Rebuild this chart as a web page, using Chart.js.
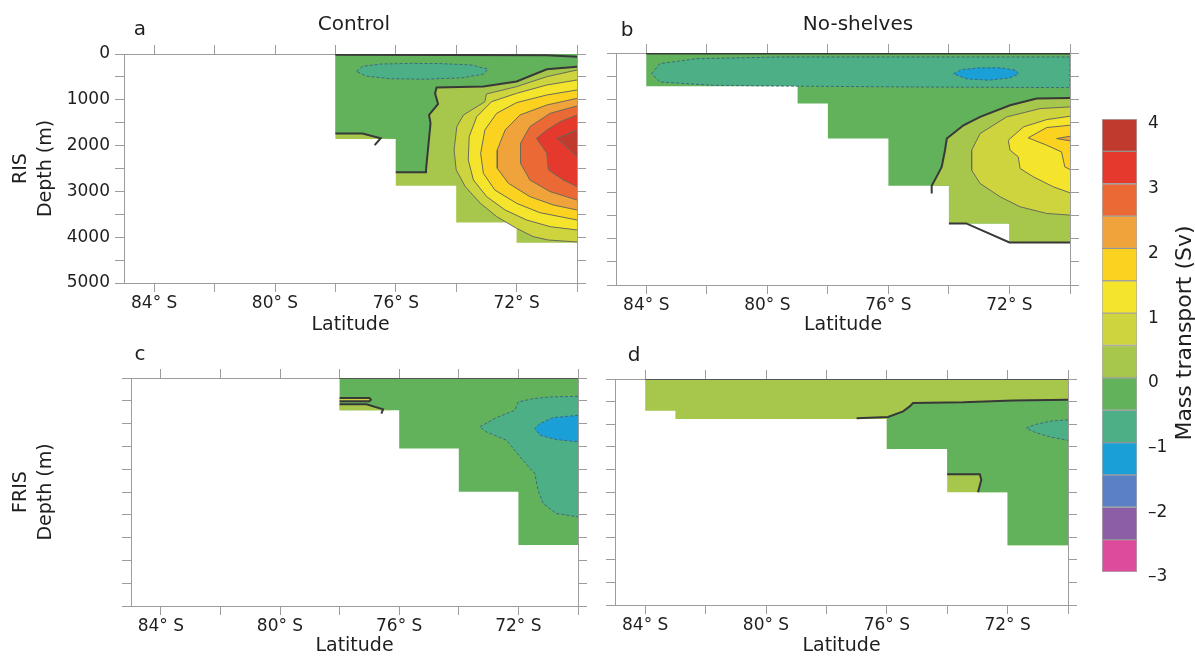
<!DOCTYPE html>
<html>
<head>
<meta charset="utf-8">
<script src="https://cdn.jsdelivr.net/npm/chart.js@4.4.1/dist/chart.umd.min.js"></script>
<style>
  body { margin: 0; background: #fff; width: 1195px; height: 657px; overflow: hidden; position: relative; }
  canvas { position: absolute; }
</style>
</head>
<body>
<canvas id="ctlRis" width="590" height="336" style="left:0;top:0"></canvas>
<canvas id="noshRis" width="490" height="336" style="left:590px;top:0"></canvas>
<canvas id="ctlFris" width="590" height="332" style="left:0;top:325px"></canvas>
<canvas id="noshFris" width="490" height="332" style="left:590px;top:325px"></canvas>
<canvas id="scaleBar" width="115" height="500" style="left:1080px;top:100px"></canvas>
<script>
// contour levels (Sv) and the fill colour of each band above a level
const levels = [-3, -2.5, -2, -1.5, -1, -0.5, 0, 0.5, 1, 1.5, 2, 2.5, 3, 3.5, 4];
const levelColors = ['#dd4c9c', '#8c5ea6', '#5b80c4', '#1aa0d6', '#4daf85', '#62b25c', '#a6c74c',
  '#cdd43e', '#f4e42b', '#fbd220', '#f0a33a', '#eb6934', '#e4392c', '#c13a2e'];
const barTicks = [-3, -2, -1, 0, 1, 2, 3, 4];
const latTicks = [84, 82, 80, 78, 76, 74, 72, 70];
const depthTicks = [0, 500, 1000, 1500, 2000, 2500, 3000, 3500, 4000, 4500, 5000];

// ---- a: Control, RIS  (points are [latitude S, depth m]) ----
const ctlRisOcean = [[78,0],[70,0],[70,4120],[72,4120],[72,3760],[72.3,3680],[74,3680],[74,2875],[76,2875],[76,1856],[78,1856]];
const ctlRisNeg00 = [[78,0],[70,0],[70,280],[71.0,335],[72.0,600],[73.1,710],[74.65,730],[74.7,860],[74.6,1090],[74.9,1330],[74.85,1510],[75.0,2530],[75.0,2580],[76,2580],[76,1856],[76.5,1840],[77.1,1735],[78,1735]];
const ctlRisNeg05 = [[77.3,380],[77.1,270],[76.5,220],[75.5,205],[74.5,210],[73.5,240],[72.95,330],[73.1,440],[73.8,520],[75.0,550],[76.2,540],[77.0,480],[77.3,380]];
const ctlRisPos05 = [[70,349],[71.0,495],[72.0,713],[73.0,873],[73.05,1041],[73.76,1332],[73.98,1586],[74.07,2096],[74.0,2532],[73.7,2896],[73.2,3260],[72.66,3551],[72.0,3806],[71.45,3988],[70.95,4061],[70,4104]];
const ctlRisPos10 = [[70,568],[71.0,677],[72.0,859],[72.83,1041],[73.32,1368],[73.57,1805],[73.6,2314],[73.43,2751],[72.99,3115],[72.38,3406],[71.67,3624],[70.89,3770],[70,3842]];
const ctlRisPos15 = [[70,786],[71.0,895],[72.0,1062],[72.66,1295],[73.05,1659],[73.19,2169],[73.1,2605],[72.72,2969],[72.0,3260],[71.23,3464],[70,3624]];
const ctlRisPos20 = [[70,968],[71.0,1113],[71.89,1332],[72.38,1659],[72.64,2096],[72.64,2496],[72.27,2823],[71.56,3115],[70.78,3297],[70,3406]];
const ctlRisPos25 = [[70,1135],[70.89,1295],[71.56,1586],[71.87,1950],[71.87,2387],[71.56,2751],[70.89,3005],[70,3187]];
const ctlRisPos30 = [[70,1332],[70.56,1477],[71.0,1659],[71.34,1841],[71.0,2169],[70.95,2532],[70.45,2751],[70,2896]];
const ctlRisPos35 = [[70,1659],[70.67,1841],[70,2241]];
const ctlRisZero = [[70,280],[71.0,335],[72.0,600],[73.1,710],[74.65,730],[74.7,860],[74.6,1090],[74.9,1330],[74.85,1510],[75.0,2530],[75.0,2580],[76,2580]];
const ctlRisZeroShelf = [[78,1735],[77.1,1735],[76.5,1840],[76.7,1990]];
const ctlRisZeroTop = [[78,15],[71,25],[70,60]];

// ---- b: No-shelves, RIS ----
const noshRisOcean = [[84,0],[70,0],[70,4082],[72,4082],[72,3673],[74,3673],[74,2862],[76,2862],[76,1844],[78,1844],[78,1090],[79,1090],[79,717],[84,717]];
const noshRisNeg05 = [[83.82,445],[83.55,230],[82.33,122],[79.6,86],[70,86],[70,746],[75.2,732],[78.5,717],[81.8,696],[83.55,624],[83.82,445]];
const noshRisNeg10 = [[73.85,450],[73.6,360],[73.0,320],[72.3,320],[71.8,370],[71.7,450],[72.0,540],[72.7,585],[73.4,560],[73.85,450]];
const noshRisPos00 = [[70,968],[71.1,983],[71.98,1126],[72.97,1377],[73.52,1557],[74.07,1844],[74.13,2095],[74.24,2454],[74.41,2669],[74.57,2862],[74,2862],[74,3673],[72,3673],[72,4082],[70,4082]];
const noshRisPos05 = [[70,1162],[70.99,1198],[72.09,1377],[72.97,1736],[73.25,2095],[73.25,2525],[72.97,2812],[72.31,3099],[71.65,3314],[70.77,3458],[70,3494]];
const noshRisPos10 = [[70,1363],[70.77,1435],[71.54,1593],[72.04,1880],[71.98,2095],[71.71,2238],[71.65,2489],[71.21,2669],[70.55,2884],[70,3013]];
const noshRisPos15 = [[70,1557],[70.77,1607],[71.38,1829],[70.77,1987],[70.28,2131],[70.17,2454],[70,2511]];
const noshRisPos20 = [[70,1794],[70.44,1844],[70,1894]];
const noshRisZero = [[70,968],[71.1,983],[71.98,1126],[72.97,1377],[73.52,1557],[74.07,1844],[74.13,2095],[74.24,2454],[74.41,2669],[74.57,2862],[74.57,3027]];
const noshRisZeroBed = [[74,3673],[73.43,3673],[72,4082],[70,4082]];
const noshRisZeroTop = [[84,12],[70,12]];

// ---- c: Control, FRIS ----
const ctlFrisOcean = [[78,0],[70,0],[70,3664],[72,3664],[72,2496],[74,2496],[74,1547],[76,1547],[76,708],[78,708]];
const ctlFrisNeg05 = [[70,401],[70.95,416],[71.51,453],[72.01,526],[72.12,708],[72.74,869],[73.3,1073],[73.07,1182],[72.4,1365],[71.85,1803],[71.45,2095],[71.34,2460],[71.17,2752],[70.73,2971],[70,3044]];
const ctlFrisNeg10 = [[70,818],[70.84,869],[71.28,1000],[71.45,1109],[71.28,1255],[70.73,1350],[70,1401]];
const ctlFrisPos00 = [[78,577],[77.1,577],[76.5,686],[76.3,708],[78,708]];
const ctlFrisPos05 = [[78,438],[77.0,438],[76.95,475],[77.0,511],[78,511]];
const ctlFrisZero = [[78,577],[77.1,577],[76.54,686],[76.6,781]];
const ctlFrisZeroTop = [[78,8],[70,8]];

// ---- d: No-shelves, FRIS ----
const noshFrisOcean = [[84,0],[70,0],[70,3678],[72,3678],[72,2504],[74,2504],[74,1551],[76,1551],[76,886],[83,886],[83,702],[84,702]];
const noshFrisNeg00 = [[70,458],[71.82,473],[73.47,517],[75.13,532],[75.24,606],[75.46,716],[75.96,842],[76,886],[76,1551],[74,1551],[74,2105],[72.92,2105],[72.87,2231],[72.98,2504],[72,2504],[72,3678],[70,3678]];
const noshFrisNeg05 = [[70,901],[70.6,935],[71.1,1010],[71.38,1086],[71.1,1180],[70.6,1280],[70,1359]];
const noshFrisZero = [[70,458],[71.82,473],[73.47,517],[75.13,532],[75.24,606],[75.46,716],[75.96,842],[77.0,871]];
const noshFrisZeroBox = [[74,2105],[72.92,2105],[72.87,2231],[72.98,2504]];
const noshFrisZeroTop = [[84,8],[70,8]];

const FONT = '"DejaVu Sans", sans-serif';
const INK = '#1e1e1e';
const AXIS = '#9c9c9c';
Chart.defaults.font.family = FONT;
Chart.defaults.color = INK;

const zeroLine = { color: '#383838', width: 2 };
const posLine = { color: '#6a6b58', width: 1 };
const negLine = { color: '#3c6a80', width: 1, dash: [3, 2] };

function shade(lo) {
  return levelColors[levels.indexOf(lo)];
}

function toXY(points) {
  return points.map(p => ({ x: p[0], y: p[1] }));
}

// filled band between contours, closed through the library's 'shape' fill
function band(points, lo, line) {
  return {
    data: toXY(points),
    showLine: true,
    fill: 'shape',
    pointRadius: 0,
    backgroundColor: shade(lo),
    borderColor: line ? line.color : 'rgba(0,0,0,0)',
    borderWidth: line ? line.width : 0,
    borderDash: line && line.dash ? line.dash : []
  };
}

function isoline(points, line) {
  return {
    data: toXY(points),
    showLine: true,
    fill: false,
    pointRadius: 0,
    borderColor: line.color,
    borderWidth: line.width,
    borderDash: line.dash || []
  };
}

// panel letters and titles
const panelText = {
  id: 'panelText',
  afterDraw(chart, args, opts) {
    const ctx = chart.ctx;
    ctx.save();
    ctx.fillStyle = INK;
    ctx.textAlign = 'center';
    ctx.textBaseline = 'middle';
    for (const t of opts.items || []) {
      ctx.font = t.size + 'px ' + FONT;
      ctx.fillText(t.text, t.x, t.y);
    }
    ctx.restore();
  }
};

function panel(id, layers, cfg) {
  const marks = { drawOnChartArea: false, drawTicks: true, tickLength: 9, color: AXIS, lineWidth: 1 };
  const edge = { display: true, color: AXIS, width: 1 };
  const setLat = axis => { axis.ticks = latTicks.map(v => ({ value: v })); };
  const setDepth = axis => { axis.ticks = depthTicks.map(v => ({ value: v })); };

  return new Chart(document.getElementById(id), {
    type: 'scatter',
    data: { datasets: layers.map((d, i) => Object.assign(d, { order: layers.length - i })) },
    options: {
      responsive: false,
      animation: false,
      events: [],
      layout: { padding: 0 },
      plugins: {
        legend: { display: false },
        tooltip: { enabled: false },
        panelText: { items: cfg.text }
      },
      scales: {
        x: {
          type: 'linear', position: 'bottom', min: 70, max: 85, reverse: true,
          afterBuildTicks: setLat,
          afterFit: s => { s.height = cfg.bottom; },
          grid: marks, border: edge,
          ticks: {
            autoSkip: false, maxRotation: 0, padding: 1, color: INK,
            font: { size: 17 },
            callback: v => (v % 4 === 0 ? v + '° S' : '')
          },
          title: { display: true, text: 'Latitude', color: INK, font: { size: 19 }, padding: 0 }
        },
        xTop: {
          type: 'linear', position: 'top', min: 70, max: 85, reverse: true,
          afterBuildTicks: setLat,
          afterFit: s => { s.height = cfg.top; },
          grid: marks, border: edge,
          ticks: { display: false }
        },
        y: {
          type: 'linear', position: 'left', min: 0, max: 5000, reverse: true,
          afterBuildTicks: setDepth,
          afterFit: s => { s.width = cfg.left; },
          grid: marks, border: edge,
          ticks: {
            display: cfg.depthLabels, autoSkip: false, padding: 5, color: INK,
            font: { size: 17 },
            callback: v => (v % 1000 === 0 ? String(v) : '')
          },
          title: {
            display: !!cfg.ytitle, text: cfg.ytitle || '', color: INK,
            font: { size: 19, lineHeight: 1.35 }, padding: { top: 8, bottom: 0 }
          }
        },
        yRight: {
          type: 'linear', position: 'right', min: 0, max: 5000, reverse: true,
          afterBuildTicks: setDepth,
          afterFit: s => { s.width = cfg.right; },
          grid: marks, border: edge,
          ticks: { display: false }
        }
      }
    },
    plugins: [panelText]
  });
}

panel('ctlRis', [
  band(ctlRisOcean, 0),
  band(ctlRisNeg00, -0.5),
  band(ctlRisNeg05, -1, negLine),
  band(ctlRisPos05, 0.5, posLine),
  band(ctlRisPos10, 1, posLine),
  band(ctlRisPos15, 1.5, posLine),
  band(ctlRisPos20, 2, posLine),
  band(ctlRisPos25, 2.5, posLine),
  band(ctlRisPos30, 3, posLine),
  band(ctlRisPos35, 3.5, posLine),
  isoline(ctlRisZero, zeroLine),
  isoline(ctlRisZeroShelf, zeroLine),
  isoline(ctlRisZeroTop, zeroLine)
], {
  left: 124, right: 13, top: 54, bottom: 53, depthLabels: true,
  ytitle: ['RIS', 'Depth (m)'],
  text: [{ text: 'a', x: 140, y: 30, size: 20 }, { text: 'Control', x: 354, y: 25, size: 20 }]
});

panel('noshRis', [
  band(noshRisOcean, -0.5),
  band(noshRisNeg05, -1, negLine),
  band(noshRisNeg10, -1.5, negLine),
  band(noshRisPos00, 0),
  band(noshRisPos05, 0.5, posLine),
  band(noshRisPos10, 1, posLine),
  band(noshRisPos15, 1.5, posLine),
  band(noshRisPos20, 2, posLine),
  isoline(noshRisZero, zeroLine),
  isoline(noshRisZeroBed, zeroLine),
  isoline(noshRisZeroTop, zeroLine)
], {
  left: 26, right: 10, top: 53, bottom: 51, depthLabels: false,
  text: [{ text: 'b', x: 37, y: 31, size: 20 }, { text: 'No-shelves', x: 268, y: 25, size: 20 }]
});

panel('ctlFris', [
  band(ctlFrisOcean, -0.5),
  band(ctlFrisNeg05, -1, negLine),
  band(ctlFrisNeg10, -1.5, negLine),
  band(ctlFrisPos00, 0),
  band(ctlFrisPos05, 0.5, zeroLine),
  isoline(ctlFrisZero, zeroLine),
  isoline(ctlFrisZeroTop, { color: '#555', width: 1.2 })
], {
  left: 131, right: 12, top: 53, bottom: 51, depthLabels: false,
  ytitle: ['FRIS', 'Depth (m)'],
  text: [{ text: 'c', x: 140, y: 30, size: 20 }]
});

panel('noshFris', [
  band(noshFrisOcean, 0),
  band(noshFrisNeg00, -0.5),
  band(noshFrisNeg05, -1, negLine),
  isoline(noshFrisZero, zeroLine),
  isoline(noshFrisZeroBox, zeroLine),
  isoline(noshFrisZeroTop, { color: '#555', width: 1.2 })
], {
  left: 25, right: 12, top: 54, bottom: 52, depthLabels: false,
  text: [{ text: 'd', x: 44, y: 31, size: 20 }]
});

// colour bar: one floating bar per contour band
const barTitle = {
  id: 'barTitle',
  afterDraw(chart) {
    const ctx = chart.ctx;
    ctx.save();
    ctx.translate(105, 233);
    ctx.rotate(-Math.PI / 2);
    ctx.fillStyle = INK;
    ctx.textAlign = 'center';
    ctx.textBaseline = 'middle';
    ctx.font = '22px ' + FONT;
    ctx.fillText('Mass transport (Sv)', 0, 0);
    ctx.restore();
  }
};

new Chart(document.getElementById('scaleBar'), {
  type: 'bar',
  data: {
    labels: ['Sv'],
    datasets: levelColors.map((c, i) => ({
      data: [[levels[i], levels[i + 1]]],
      backgroundColor: c,
      borderColor: 'rgba(70,70,70,0.45)',
      borderWidth: 1,
      borderSkipped: false,
      grouped: false,
      barPercentage: 1,
      categoryPercentage: 1
    }))
  },
  options: {
    responsive: false,
    animation: false,
    events: [],
    layout: { padding: { left: 22, top: 19, bottom: 28, right: 0 } },
    plugins: { legend: { display: false }, tooltip: { enabled: false } },
    scales: {
      x: { display: false },
      y: {
        min: -3, max: 4, position: 'right',
        afterBuildTicks: axis => { axis.ticks = barTicks.map(v => ({ value: v })); },
        afterFit: s => { s.width = 58; s.paddingTop = 0; s.paddingBottom = 0; },
        grid: { display: false, drawTicks: false },
        border: { display: false },
        ticks: {
          padding: 11, labelOffset: 5, color: INK, font: { size: 17 },
          callback: v => (v < 0 ? '\u2013' + (-v) : String(v))
        }
      }
    }
  },
  plugins: [barTitle]
});
</script>
</body>
</html>
